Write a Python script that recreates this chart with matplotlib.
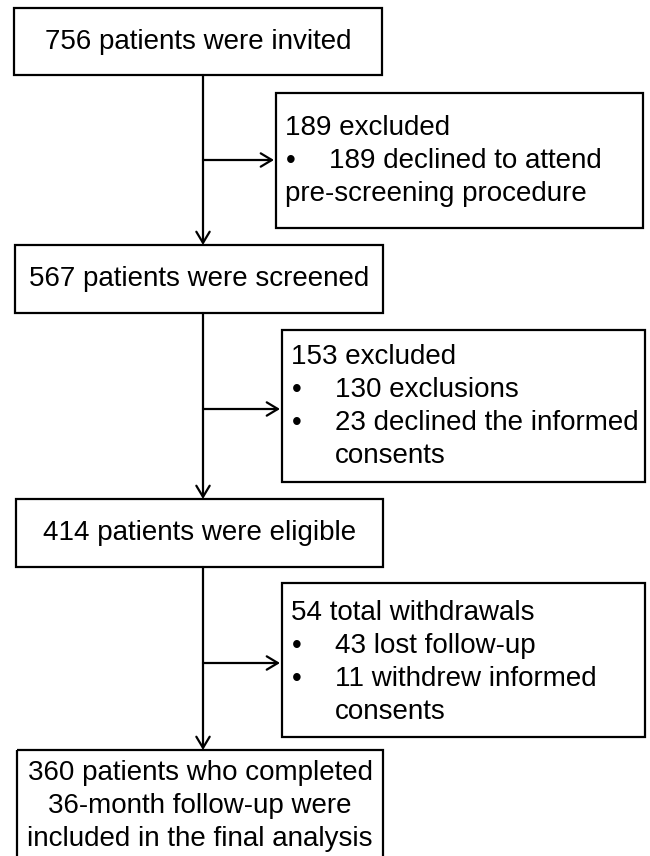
import matplotlib
matplotlib.use("Agg")
import matplotlib.pyplot as plt
from matplotlib.patches import Rectangle, FancyArrowPatch

plt.rcParams['font.family'] = ['Liberation Sans', 'DejaVu Sans']

main_labels = [
    "756 patients were invited",
    "567 patients were screened",
    "414 patients were eligible",
    "360 patients who completed\n36-month follow-up were\nincluded in the final analysis",
]
side_headers = ["189 excluded", "153 excluded", "54 total withdrawals"]
side_items = [
    ["189 declined to attend"],
    ["130 exclusions", "23 declined the informed"],
    ["43 lost follow-up", "11 withdrew informed"],
]
side_tails = ["pre-screening procedure", "consents", "consents"]

# layout (pixels)
main_boxes = [(14, 8, 382, 75), (15, 245, 383, 313), (16, 499, 383, 567), (17, 750, 383, 870)]
side_boxes = [(276, 93, 643, 228), (282, 330, 645, 482), (282, 583, 645, 737)]
side_text_top = [128, 357, 613]
arrow_ys = [160, 409, 663]
xc = 203
fs = 20
lh = 33
lw = 1.6

fig = plt.figure(figsize=(6.5, 8.56), dpi=100)
ax = fig.add_axes([0, 0, 1, 1])
ax.set_xlim(0, 650)
ax.set_ylim(856, 0)
ax.axis('off')

def box(b):
    x0, y0, x1, y1 = b
    ax.add_patch(Rectangle((x0, y0), x1 - x0, y1 - y0, fill=False, ec='black', lw=lw))

for i, (b, lab) in enumerate(zip(main_boxes, main_labels)):
    box(b)
    if i < 3:
        ax.text((b[0] + b[2]) / 2, (b[1] + b[3]) / 2, lab, ha='center', va='center', fontsize=fs)
    else:
        for j, line in enumerate(lab.split("\n")):
            ax.text((b[0] + b[2]) / 2, 773 + j * lh, line, ha='center', va='center', fontsize=fs)

for k, b in enumerate(side_boxes):
    box(b)
    tx = b[0] + 9
    y0 = side_text_top[k]
    ax.text(tx, y0, side_headers[k], ha='left', va='center', fontsize=fs)
    for j, it in enumerate(side_items[k]):
        yy = y0 + (j + 1) * lh
        ax.text(tx + 1, yy, "\u2022", ha='left', va='center', fontsize=fs)
        ax.text(tx + 44, yy, it, ha='left', va='center', fontsize=fs)
    yt = y0 + (len(side_items[k]) + 1) * lh
    ax.text(tx if k == 0 else tx + 44, yt, side_tails[k], ha='left', va='center', fontsize=fs)

# vertical arrows
for a, b in zip(main_boxes[:-1], main_boxes[1:]):
    ax.add_patch(FancyArrowPatch((xc, a[3]), (xc, b[1]), arrowstyle='->,head_length=5,head_width=3',
                                 mutation_scale=1.6, lw=lw, color='black', shrinkA=0, shrinkB=0))
for y, b in zip(arrow_ys, side_boxes):
    ax.add_patch(FancyArrowPatch((xc, y), (b[0] - 2, y), arrowstyle='->,head_length=5,head_width=3',
                                 mutation_scale=1.6, lw=lw, color='black', shrinkA=0, shrinkB=0))

fig.savefig("out.png", dpi=100, facecolor='white')
